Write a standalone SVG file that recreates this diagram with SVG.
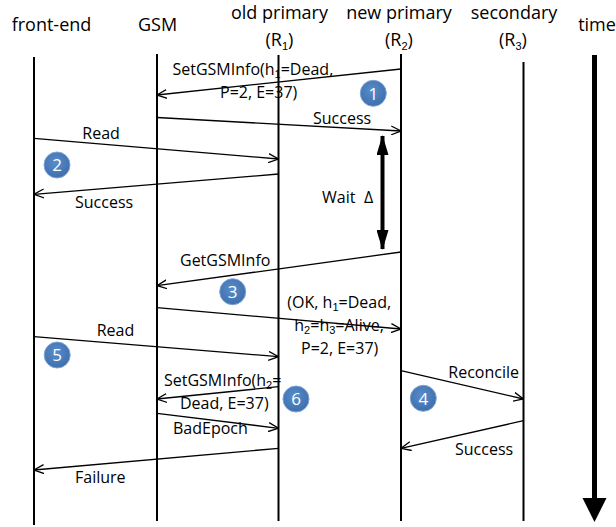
<svg xmlns="http://www.w3.org/2000/svg" width="616" height="527" viewBox="0 0 616 527">
<style>
text{font-family:"Open Sans","Liberation Sans",sans-serif;fill:#000}
.h{font-size:18px;text-anchor:middle}
.l{font-size:16px}
.sub{font-size:11px;font-family:"Liberation Sans",sans-serif}
.life{stroke:#000;stroke-width:2;fill:none}
.msg{stroke:#000;stroke-width:1.3;fill:none;marker-end:url(#open)}
.badge circle{fill:url(#bg);stroke:#7ea3d4;stroke-width:1}
.badge text{fill:#fff;font-size:17px;text-anchor:middle}
</style>
<defs>
<marker id="open" viewBox="0 0 10 10" refX="10" refY="5" markerWidth="10" markerHeight="10" markerUnits="userSpaceOnUse" orient="auto">
<path d="M0,0.5 L10,5 L0,9.5" fill="none" stroke="#000" stroke-width="1.3"/>
</marker>
<marker id="solid" viewBox="0 0 20 12" refX="19" refY="6" markerWidth="20" markerHeight="12" markerUnits="userSpaceOnUse" orient="auto-start-reverse">
<path d="M0,0 L20,6 L0,12 Z" fill="#000"/>
</marker>
<radialGradient id="bg" cx="0.45" cy="0.4" r="0.6">
<stop offset="0" stop-color="#5a8ccb"/>
<stop offset="1" stop-color="#3e6fad"/>
</radialGradient>
</defs>

<g id="front-end">
<text class="h" x="51.5" y="31">front-end</text>
<line class="life" x1="34" y1="57" x2="34" y2="525"/>
</g>
<g id="gsm">
<text class="h" x="157.5" y="31">GSM</text>
<line class="life" x1="157" y1="54" x2="157" y2="521"/>
</g>
<g id="old-primary">
<text class="h" x="279.5" y="19">old primary</text>
<text class="h" x="279.5" y="46">(R<tspan class="sub" dy="4">1</tspan><tspan dy="-4">)</tspan></text>
<line class="life" x1="278.5" y1="55" x2="278.5" y2="521"/>
</g>
<g id="new-primary">
<text class="h" x="399" y="19">new primary</text>
<text class="h" x="399" y="46">(R<tspan class="sub" dy="4">2</tspan><tspan dy="-4">)</tspan></text>
<line class="life" x1="401" y1="54" x2="401" y2="521"/>
</g>
<g id="secondary">
<text class="h" x="514" y="19">secondary</text>
<text class="h" x="513" y="46">(R<tspan class="sub" dy="4">3</tspan><tspan dy="-4">)</tspan></text>
<line class="life" x1="523.5" y1="62" x2="523.5" y2="521"/>
</g>
<g id="time">
<text class="h" x="597" y="31">time</text>
<line x1="594.5" y1="55" x2="594.5" y2="500" stroke="#000" stroke-width="5"/>
<path d="M582.5,498 L606.5,498 L594.5,522 Z" fill="#000"/>
</g>

<g id="connectors">
<line class="msg" x1="401" y1="69" x2="157" y2="95"/>
<line class="msg" x1="157" y1="117.5" x2="401" y2="131"/>
<line class="msg" x1="34" y1="138.3" x2="278.5" y2="159"/>
<line class="msg" x1="278.5" y1="174" x2="34" y2="194.3"/>
<line class="msg" x1="401" y1="252" x2="157" y2="285.7"/>
<line class="msg" x1="157" y1="307.7" x2="401" y2="329"/>
<line class="msg" x1="34" y1="336.7" x2="278.5" y2="356.7"/>
<line class="msg" x1="278.5" y1="386.7" x2="157" y2="399"/>
<line class="msg" x1="157" y1="413.3" x2="278.5" y2="428.3"/>
<line class="msg" x1="278.5" y1="448.3" x2="34" y2="470"/>
<line class="msg" x1="401" y1="370.7" x2="523.5" y2="399"/>
<line class="msg" x1="523.5" y1="420.7" x2="401" y2="448.3"/>
<line x1="382.5" y1="136" x2="382.5" y2="249" stroke="#000" stroke-width="4" marker-start="url(#solid)" marker-end="url(#solid)"/>
</g>

<g id="labels">
<text class="l" x="172.5" y="75">SetGSMInfo(h<tspan class="sub" dy="3">1</tspan><tspan dy="-3">=Dead,</tspan></text>
<text class="l" x="220" y="98">P=2, E=37)</text>
<text class="l" x="313" y="124">Success</text>
<text class="l" x="82.3" y="139">Read</text>
<text class="l" x="75" y="208.3">Success</text>
<text class="l" x="322" y="202.7">Wait</text>
<text class="l" x="364" y="202.7">Δ</text>
<text class="l" x="180" y="265.7">GetGSMInfo</text>
<text class="l" x="287.3" y="307.5">(OK, h<tspan class="sub" dy="3">1</tspan><tspan dy="-3">=Dead,</tspan></text>
<text class="l" x="294.3" y="330.5">h<tspan class="sub" dy="3">2</tspan><tspan dy="-3">=h</tspan><tspan class="sub" dy="3">3</tspan><tspan dy="-3">=Alive,</tspan></text>
<text class="l" x="301" y="353.5">P=2, E=37)</text>
<text class="l" x="96.7" y="336">Read</text>
<text class="l" x="164" y="385.5">SetGSMInfo(h<tspan class="sub" dy="3">2</tspan><tspan dy="-3">=</tspan></text>
<text class="l" x="180" y="408.5">Dead, E=37)</text>
<text class="l" x="173" y="434">BadEpoch</text>
<text class="l" x="75" y="483.3">Failure</text>
<text class="l" x="448.3" y="378.3">Reconcile</text>
<text class="l" x="455" y="455">Success</text>
</g>

<g id="badge-1" class="badge"><circle cx="373.3" cy="93.3" r="13"/><text x="373.3" y="99.5">1</text></g>
<g id="badge-2" class="badge"><circle cx="57" cy="165" r="13"/><text x="57" y="171.2">2</text></g>
<g id="badge-3" class="badge"><circle cx="232.7" cy="291.7" r="13"/><text x="232.7" y="297.9">3</text></g>
<g id="badge-4" class="badge"><circle cx="423.3" cy="398.3" r="13"/><text x="423.3" y="404.5">4</text></g>
<g id="badge-5" class="badge"><circle cx="57.2" cy="355" r="13"/><text x="57.2" y="361.2">5</text></g>
<g id="badge-6" class="badge"><circle cx="296" cy="399" r="13"/><text x="296" y="405.2">6</text></g>
</svg>
